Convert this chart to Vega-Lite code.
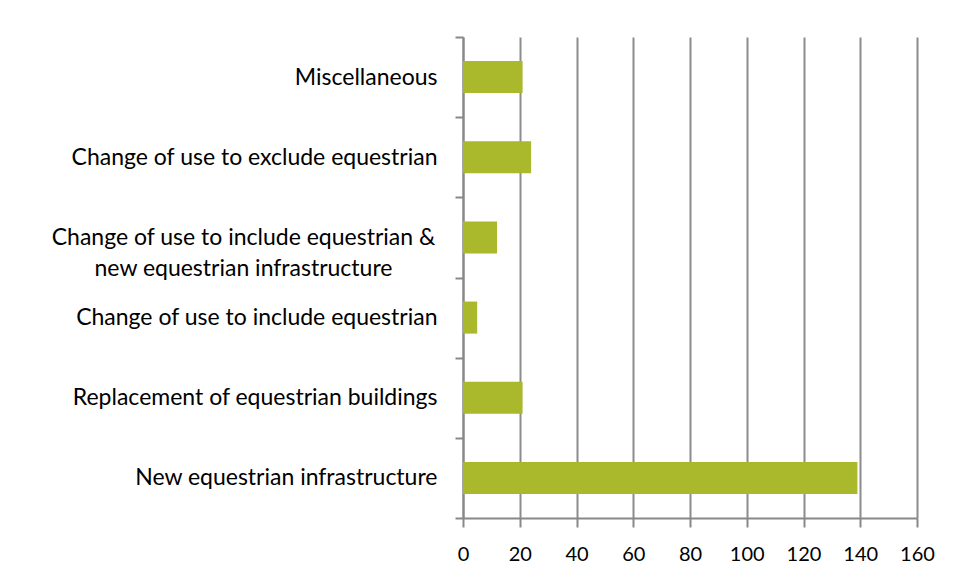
{
  "$schema": "https://vega.github.io/schema/vega-lite/v6.json",
  "width": 454,
  "height": 481,
  "autosize": "none",
  "padding": {"left": 463, "top": 37, "right": 39, "bottom": 61},
  "background": "white",
  "config": {"view": {"stroke": null}},
  "data": {
    "values": [
      {"category": "Miscellaneous", "count": 21},
      {"category": "Change of use to exclude equestrian", "count": 24},
      {"category": "Change of use to include equestrian & new equestrian infrastructure", "count": 12},
      {"category": "Change of use to include equestrian", "count": 5},
      {"category": "Replacement of equestrian buildings", "count": 21},
      {"category": "New equestrian infrastructure", "count": 139}
    ]
  },
  "mark": {"type": "bar", "color": "#A9B92B", "height": {"band": 0.4}},
  "encoding": {
    "y": {
      "field": "category",
      "type": "nominal",
      "sort": null,
      "scale": {"paddingInner": 0, "paddingOuter": 0},
      "axis": {
        "title": null,
        "domainColor": "#888888",
        "domainWidth": 2,
        "ticks": true,
        "tickBand": "extent",
        "tickSize": 8,
        "tickColor": "#888888",
        "tickWidth": 2,
        "grid": false,
        "labelFont": "Lato",
        "labelFontSize": 23,
        "labelColor": "#000000",
        "labelLimit": 0,
        "labelLineHeight": 31,
        "labelExpr": "datum.label == 'Change of use to include equestrian & new equestrian infrastructure' ? ['Change of use to include equestrian &', 'new equestrian infrastructure'] : datum.label",
        "labelAlign": {"condition": {"test": "datum.value == 'Change of use to include equestrian & new equestrian infrastructure'", "value": "center"}, "value": "right"},
        "labelPadding": {"condition": {"test": "datum.value == 'Change of use to include equestrian & new equestrian infrastructure'", "value": 212}, "value": 18}
      }
    },
    "x": {
      "field": "count",
      "type": "quantitative",
      "scale": {"domain": [0, 160], "nice": false},
      "axis": {
        "title": null,
        "values": [0, 20, 40, 60, 80, 100, 120, 140, 160],
        "labelFlush": false,
        "domainColor": "#888888",
        "domainWidth": 2,
        "tickSize": 9,
        "tickColor": "#888888",
        "tickWidth": 2,
        "grid": true,
        "gridColor": "#8c8c8c",
        "gridWidth": 2,
        "labelFont": "Lato",
        "labelFontSize": 20,
        "labelColor": "#000000",
        "labelPadding": 17
      }
    }
  }
}
